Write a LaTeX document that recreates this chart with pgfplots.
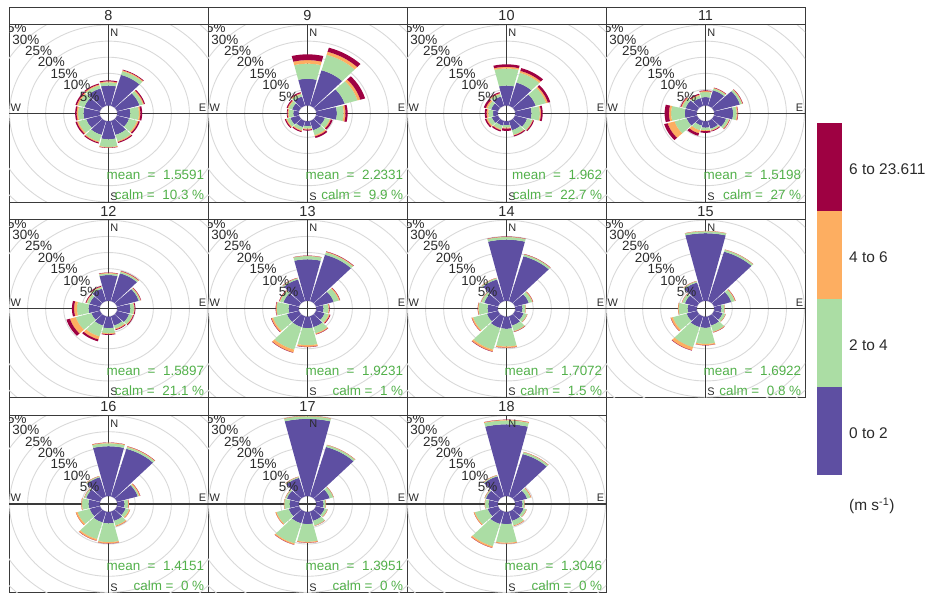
\documentclass[border=0pt]{standalone}
\usepackage{pgfplots}
\usepackage{pgfplotstable}
\pgfplotsset{compat=1.18}
\usepackage{fontspec}
\setmainfont{Liberation Sans}

\definecolor{cP}{HTML}{5E4FA2}
\definecolor{cG}{HTML}{ABDDA4}
\definecolor{cO}{HTML}{FDAE61}
\definecolor{cR}{HTML}{9E0142}
\definecolor{calmcol}{HTML}{52B04A}
\definecolor{framecol}{HTML}{3A3A3A}
\definecolor{gridcol}{HTML}{D9D9D9}
\definecolor{txtcol}{HTML}{2B2B2B}

% frequency (%) of each wind-speed bin per 30-degree sector
\pgfplotstableread{
dir p g o r
0 6.2 1.0 0.3 0.3
30 10.0 1.2 0.3 0.2
60 6.5 1.0 0.3 0.3
90 3.6 2.4 0.4 0.5
120 3.5 2.3 0.4 0.4
150 4.5 2.0 0.3 0.3
180 5.6 2.4 0.2 0.1
210 4.5 2.2 0.3 0.3
240 4.0 2.3 0.4 0.4
270 4.5 1.5 0.4 0.4
300 4.5 1.8 0.4 0.4
330 5.6 1.0 0.3 0.3
}\tEight
\pgfplotstableread{
dir p g o r
0 8.3 4.7 1.1 1.8
30 11.5 5.0 1.0 1.3
60 8.3 3.7 0.8 1.4
90 5.7 1.9 0.5 0.6
120 2.6 1.4 0.3 0.5
150 3.0 1.6 0.4 0.5
180 1.5 0.8 0.3 0.3
210 2.0 1.0 0.3 0.3
240 2.5 1.0 0.3 0.3
270 1.5 1.3 0.3 0.2
300 2.0 1.0 0.3 0.3
330 3.0 0.8 0.3 0.3
}\tNine
\pgfplotstableread{
dir p g o r
0 6.2 5.3 0.5 0.8
30 7.5 3.2 0.6 0.9
60 6.0 3.0 0.5 0.7
90 4.5 2.3 0.3 0.5
120 3.5 1.5 0.2 0.3
150 3.0 1.5 0.2 0.3
180 1.2 0.8 0.3 0.7
210 1.5 1.2 0.3 0.4
240 1.8 1.2 0.4 0.4
270 1.3 1.3 0.5 0.5
300 2.0 1.0 0.5 0.6
330 3.0 0.8 0.3 0.3
}\tTen
\pgfplotstableread{
dir p g o r
0 2.6 1.6 0.3 0.2
30 5.0 0.6 0.2 0.1
60 7.5 0.6 0.2 0.1
90 5.2 1.0 0.3 0.1
120 3.5 0.8 0.2 0.1
150 2.5 0.5 0.2 0.2
180 2.0 0.8 0.3 0.5
210 1.5 1.5 1.0 0.8
240 3.0 3.5 2.0 1.0
270 3.3 3.8 0.6 1.2
300 3.3 1.0 0.3 0.2
330 2.5 0.8 0.3 0.3
}\tEleven
\pgfplotstableread{
dir p g o r
0 8.0 0.5 0.2 0.1
30 9.0 0.5 0.2 0.1
60 6.3 0.4 0.2 0.1
90 3.6 1.0 0.2 0.2
120 3.5 1.0 0.2 0.2
150 3.0 1.0 0.3 0.2
180 3.6 1.6 0.3 0.2
210 3.0 3.5 1.0 0.6
240 2.5 4.5 1.7 1.0
270 3.1 3.2 0.8 0.6
300 3.0 0.8 0.2 0.2
330 4.0 0.5 0.2 0.2
}\tTwelve
\pgfplotstableread{
dir p g o r
0 12.9 1.0 0.1 0.05
30 15.0 0.8 0.2 0.1
60 5.1 1.5 0.3 0.1
90 2.0 1.4 0.2 0.1
120 2.5 1.2 0.3 0.2
150 3.5 2.0 0.3 0.1
180 3.6 5.3 0.5 0.1
210 3.5 7.3 0.9 0.1
240 3.5 4.0 0.5 0.1
270 2.8 3.3 0.2 0.1
300 4.5 1.0 0.2 0.1
330 7.0 0.4 0.1 0.05
}\tThirteen
\pgfplotstableread{
dir p g o r
0 19.0 0.8 0.1 0.05
30 14.5 0.6 0.1 0.05
60 4.0 1.0 0.2 0.05
90 2.0 0.8 0.1 0.0
120 2.5 1.0 0.1 0.0
150 3.0 1.8 0.2 0.05
180 3.8 5.5 0.4 0.05
210 3.8 7.0 0.6 0.1
240 3.2 4.0 0.4 0.05
270 2.8 2.5 0.2 0.05
300 4.0 0.8 0.1 0.0
330 7.0 0.4 0.1 0.0
}\tFourteen
\pgfplotstableread{
dir p g o r
0 21.0 0.6 0.1 0.0
30 16.0 0.6 0.1 0.0
60 5.0 1.0 0.2 0.05
90 2.0 0.8 0.1 0.0
120 2.5 0.8 0.1 0.0
150 3.0 2.0 0.2 0.05
180 3.5 5.0 0.4 0.05
210 3.5 6.5 1.0 0.1
240 3.0 4.0 0.6 0.05
270 2.5 2.5 0.2 0.0
300 3.5 0.8 0.1 0.0
330 6.0 0.4 0.1 0.0
}\tFifteen
\pgfplotstableread{
dir p g o r
0 15.5 0.9 0.2 0.05
30 15.4 0.6 0.2 0.05
60 6.0 0.4 0.3 0.05
90 2.0 1.0 0.2 0.05
120 2.5 1.0 0.3 0.0
150 3.0 1.5 0.3 0.0
180 3.6 5.8 0.4 0.05
210 3.5 5.4 0.5 0.05
240 3.0 3.5 0.5 0.0
270 3.1 1.8 0.2 0.0
300 4.0 0.5 0.1 0.0
330 6.2 0.3 0.1 0.0
}\tSixteen
\pgfplotstableread{
dir p g o r
0 24.0 0.8 0.1 0.0
30 16.0 0.6 0.1 0.0
60 4.0 1.0 0.1 0.0
90 2.0 0.6 0.1 0.0
120 2.5 0.8 0.1 0.0
150 3.0 1.5 0.1 0.0
180 3.8 5.5 0.3 0.05
210 3.8 6.5 0.4 0.05
240 3.0 3.5 0.3 0.0
270 2.5 1.5 0.1 0.0
300 3.5 0.4 0.1 0.0
330 6.0 0.3 0.1 0.0
}\tSeventeen
\pgfplotstableread{
dir p g o r
0 22.3 1.2 0.2 0.05
30 13.7 0.6 0.1 0.0
60 3.5 1.0 0.2 0.0
90 2.0 0.5 0.1 0.0
120 2.5 0.8 0.1 0.0
150 3.0 1.5 0.2 0.0
180 3.8 5.8 0.3 0.0
210 4.0 7.2 0.5 0.05
240 3.0 3.7 0.3 0.0
270 2.5 1.0 0.1 0.0
300 3.5 0.3 0.1 0.0
330 6.5 0.3 0.1 0.0
}\tEighteen

\def\off{2.44}
\def\hw{13.8}

% one band of one sector, as polar polygon (angle, radius)
\newcommand\bandwedge[4]{%
  \gdef\polybuf{}%
  \pgfmathsetmacro\wca{90-#1}%
  \foreach \k in {-4,...,4}{%
    \pgfmathsetmacro\wang{\wca+\k*\hw/4}%
    \xdef\polybuf{\polybuf(\wang,#3)}%
  }%
  \foreach \k in {4,3,...,-4}{%
    \pgfmathsetmacro\wang{\wca+\k*\hw/4}%
    \xdef\polybuf{\polybuf(\wang,#2)}%
  }%
  \xdef\rosecmds{\unexpanded\expandafter{\rosecmds}\noexpand\addplot[fill=#4,draw=none,data cs=polar] coordinates {\polybuf};}%
}
\newcommand\buildrose[1]{%
  \gdef\rosecmds{}%
  \foreach \i in {0,...,11}{%
    \pgfplotstablegetelem{\i}{dir}\of#1\let\vd\pgfplotsretval
    \pgfplotstablegetelem{\i}{p}\of#1\let\vp\pgfplotsretval
    \pgfplotstablegetelem{\i}{g}\of#1\let\vg\pgfplotsretval
    \pgfplotstablegetelem{\i}{o}\of#1\let\vo\pgfplotsretval
    \pgfplotstablegetelem{\i}{r}\of#1\let\vr\pgfplotsretval
    \pgfmathsetmacro\rA{\off}%
    \pgfmathsetmacro\rB{\rA+\vp}%
    \pgfmathsetmacro\rC{\rB+\vg}%
    \pgfmathsetmacro\rD{\rC+\vo}%
    \pgfmathsetmacro\rE{\rD+\vr}%
    \bandwedge{\vd}{\rA}{\rB}{cP}%
    \bandwedge{\vd}{\rB}{\rC}{cG}%
    \bandwedge{\vd}{\rC}{\rD}{cO}%
    \bandwedge{\vd}{\rD}{\rE}{cR}%
  }%
}

\tikzset{pct/.style={font=\fontsize{13.5}{15}\selectfont, text=txtcol, inner sep=0pt}}

\newcommand\panel[6]{% col,row,label,table,mean,calm
  \pgfmathsetmacro\pxl{9+199*#1}%
  \pgfmathsetmacro\pyt{-(7+195.3*#2+17.5)}%
  \pgfmathsetmacro\pyb{-(7+195.3*#2)}%
  \buildrose{#4}%
  \begin{axis}[at={(\pxl bp,\pyt bp)}, anchor=north west,
    scale only axis, width=199bp, height=177.8bp,
    xmin=-27.6,xmax=27.6,ymin=-27.6,ymax=27.6,
    xtick=\empty, ytick=\empty,
    axis line style={framecol, line width=0.9bp}]
    \pgfplotsinvokeforeach{2.44,7.44,12.44,17.44,22.44,27.44,32.44,37.44,42.44,47.44}{%
      \draw[gridcol, line width=0.9bp] (axis cs:0,0) ellipse [x radius=##1, y radius=##1];}
    \draw[framecol, line width=1.4bp] (axis cs:-30,0) -- (axis cs:30,0);
    \draw[framecol, line width=1.4bp] (axis cs:0,-30) -- (axis cs:0,30);
    \rosecmds
    \node[pct] at (axis cs:-5.261,5.261) {5\%};
    \node[pct] at (axis cs:-8.796,8.796) {10\%};
    \node[pct] at (axis cs:-12.332,12.332) {15\%};
    \node[pct] at (axis cs:-15.867,15.867) {20\%};
    \node[pct] at (axis cs:-19.403,19.403) {25\%};
    \node[pct] at (axis cs:-22.938,22.938) {30\%};
    \node[pct] at (axis cs:-26.474,26.474) {35\%};
    \node[anchor=north west, inner sep=1bp, font=\fontsize{11}{12}\selectfont, text=txtcol] at (axis cs:0.2,26.6) {N};
    \node[anchor=south west, inner sep=1bp, font=\fontsize{11}{12}\selectfont, text=txtcol] at (axis cs:-27.5,0.3) {W};
    \node[anchor=south east, inner sep=1bp, font=\fontsize{11}{12}\selectfont, text=txtcol] at (axis cs:27.4,0.3) {E};
    \node[anchor=south west, inner sep=1bp, font=\fontsize{11}{12}\selectfont, text=txtcol] at (axis cs:0.2,-27.5) {S};
    \node[anchor=south east, align=right, inner sep=0pt, text=calmcol, font=\fontsize{13.5}{20}\selectfont] at (axis cs:26.6,-26.9) {mean\ \ =\ \ #5\\calm\ =\ \ #6\ \%};
  \end{axis}
  \draw[framecol, line width=0.9bp, fill=white] (\pxl bp,\pyb bp) rectangle ++(199bp,-17.5bp);
  \node[font=\fontsize{14.5}{16}\selectfont, text=txtcol] at ({\pxl bp+99.5bp},{\pyb bp-8.9bp}) {#3};
}

\begin{document}
\begin{tikzpicture}
\useasboundingbox (0,0) rectangle (939bp,-593bp);
\panel{0}{0}{8}{\tEight}{1.5591}{10.3}
\panel{1}{0}{9}{\tNine}{2.2331}{9.9}
\panel{2}{0}{10}{\tTen}{1.962}{22.7}
\panel{3}{0}{11}{\tEleven}{1.5198}{27}
\panel{0}{1}{12}{\tTwelve}{1.5897}{21.1}
\panel{1}{1}{13}{\tThirteen}{1.9231}{1}
\panel{2}{1}{14}{\tFourteen}{1.7072}{1.5}
\panel{3}{1}{15}{\tFifteen}{1.6922}{0.8}
\panel{0}{2}{16}{\tSixteen}{1.4151}{0}
\panel{1}{2}{17}{\tSeventeen}{1.3951}{0}
\panel{2}{2}{18}{\tEighteen}{1.3046}{0}
% colour key
\fill[cR] (816.5bp,-123.3bp) rectangle (841.5bp,-211.2bp);
\fill[cO] (816.5bp,-211.2bp) rectangle (841.5bp,-299.2bp);
\fill[cG] (816.5bp,-299.2bp) rectangle (841.5bp,-387.1bp);
\fill[cP] (816.5bp,-387.1bp) rectangle (841.5bp,-475bp);
\begin{scope}[every node/.style={anchor=west, inner sep=0pt, text=txtcol, font=\fontsize{15.5}{18}\selectfont}]
\node at (849bp,-169bp) {6 to 23.611};
\node at (849bp,-257bp) {4 to 6};
\node at (849bp,-345bp) {2 to 4};
\node at (849bp,-433bp) {0 to 2};
\node at (849bp,-506bp) {(m s\textsuperscript{-1})};
\end{scope}
\end{tikzpicture}
\end{document}
